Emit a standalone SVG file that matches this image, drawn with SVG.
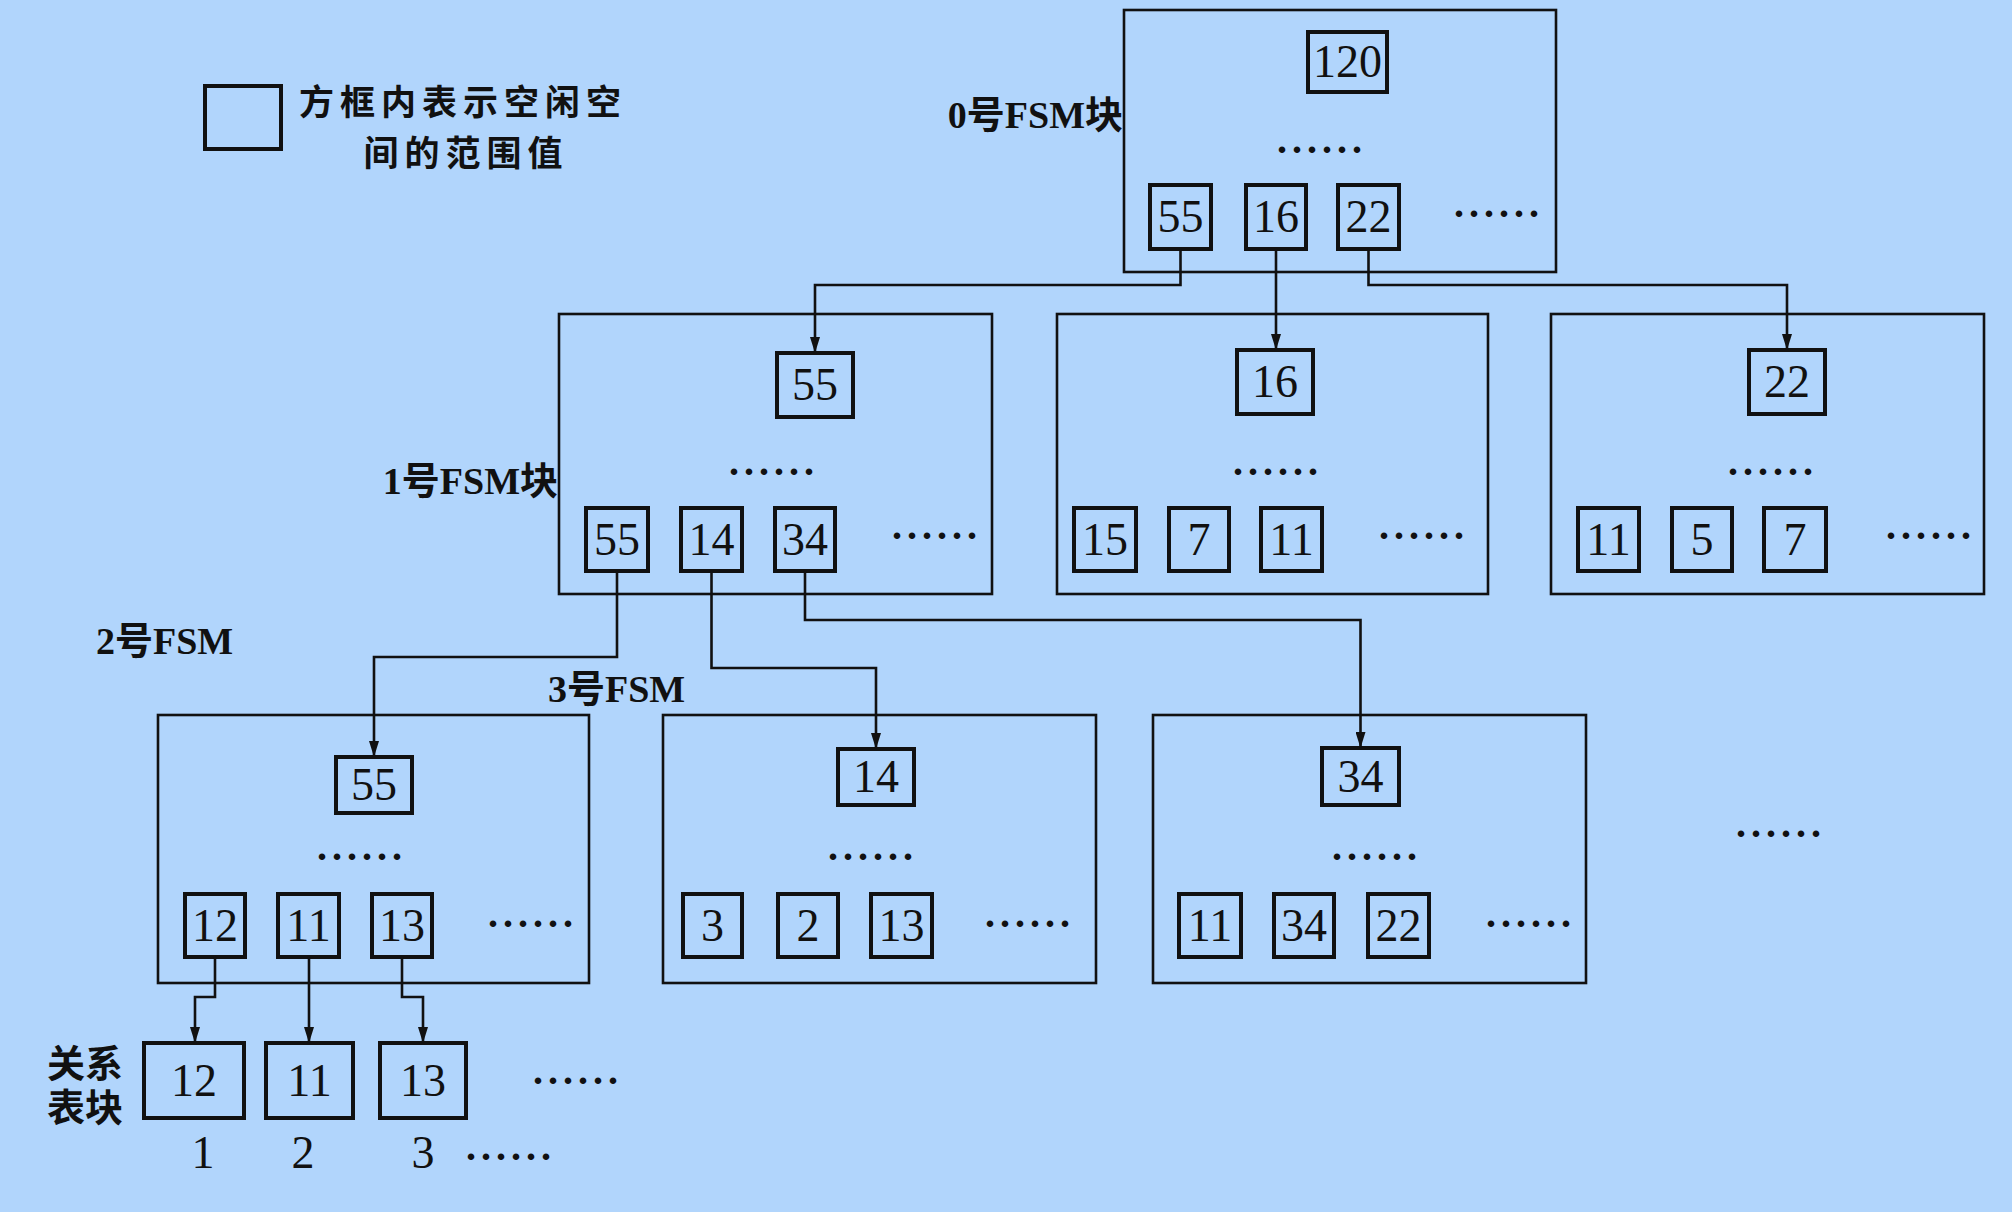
<svg xmlns="http://www.w3.org/2000/svg" width="2012" height="1212" viewBox="0 0 2012 1212">
<defs>
<style>
.blk{fill:none;stroke:#111;stroke-width:2.6}
.box{fill:none;stroke:#111;stroke-width:4}
.num{font-family:"Liberation Serif",serif;font-size:46px;text-anchor:middle;fill:#111}
.dots{font-family:"Liberation Serif",serif;font-size:40px;font-weight:bold;letter-spacing:5px;fill:#111}
.lbl{font-family:"Liberation Serif","Noto Sans CJK SC",sans-serif;font-size:38px;font-weight:bold;fill:#111}
.cjk{font-family:"Noto Sans CJK SC",sans-serif;font-size:35px;font-weight:bold;letter-spacing:6px;fill:#111}
.conn{fill:none;stroke:#111;stroke-width:2.6;marker-end:url(#arr)}
</style>
<marker id="arr" viewBox="0 0 16 10" markerWidth="16" markerHeight="10" refX="16" refY="5" orient="auto" markerUnits="userSpaceOnUse">
<path d="M0,0 L16,5 L0,10 z" fill="#111"/>
</marker>
</defs>
<rect width="2012" height="1212" fill="#b1d5fc"/>

<g id="legend">
<rect class="box" x="205" y="86" width="76" height="63"/>
<text class="cjk" x="299" y="115">方框内表示空闲空</text>
<text class="cjk" x="466" y="166" text-anchor="middle">间的范围值</text>
</g>

<g id="labels">
<text class="lbl" x="1123" y="128" text-anchor="end">0号FSM块</text>
<text class="lbl" x="558" y="494" text-anchor="end">1号FSM块</text>
<text class="lbl" x="96" y="654">2号FSM</text>
<text class="lbl" x="548" y="702">3号FSM</text>
<text class="lbl" x="47" y="1077">关系</text>
<text class="lbl" x="47" y="1121">表块</text>
<text class="dots" x="1736" y="837">......</text>
</g>

<g id="fsm0">
<rect class="blk" x="1124" y="10" width="432" height="262"/>
<rect class="box" x="1308" y="32" width="79" height="60"/><text class="num" x="1347.5" y="77">120</text>
<text class="dots" x="1277" y="153">......</text>
<rect class="box" x="1150" y="185" width="61" height="64"/><text class="num" x="1180.5" y="232">55</text>
<rect class="box" x="1246" y="185" width="60" height="64"/><text class="num" x="1276" y="232">16</text>
<rect class="box" x="1338" y="185" width="61" height="64"/><text class="num" x="1368.5" y="232">22</text>
<text class="dots" x="1454" y="217">......</text>
</g>

<g id="fsm1a">
<rect class="blk" x="559" y="314" width="433" height="280"/>
<rect class="box" x="777" y="353" width="76" height="64"/><text class="num" x="815" y="400">55</text>
<text class="dots" x="729" y="475">......</text>
<rect class="box" x="586" y="508" width="62" height="63"/><text class="num" x="617" y="555">55</text>
<rect class="box" x="681" y="508" width="61" height="63"/><text class="num" x="711.5" y="555">14</text>
<rect class="box" x="775" y="508" width="60" height="63"/><text class="num" x="805" y="555">34</text>
<text class="dots" x="892" y="539">......</text>
</g>

<g id="fsm1b">
<rect class="blk" x="1057" y="314" width="431" height="280"/>
<rect class="box" x="1237" y="350" width="76" height="64"/><text class="num" x="1275" y="397">16</text>
<text class="dots" x="1233" y="475">......</text>
<rect class="box" x="1074" y="508" width="62" height="63"/><text class="num" x="1105" y="555">15</text>
<rect class="box" x="1169" y="508" width="60" height="63"/><text class="num" x="1199" y="555">7</text>
<rect class="box" x="1261" y="508" width="61" height="63"/><text class="num" x="1291.5" y="555">11</text>
<text class="dots" x="1379" y="539">......</text>
</g>

<g id="fsm1c">
<rect class="blk" x="1551" y="314" width="433" height="280"/>
<rect class="box" x="1749" y="350" width="76" height="64"/><text class="num" x="1787" y="397">22</text>
<text class="dots" x="1728" y="475">......</text>
<rect class="box" x="1578" y="508" width="61" height="63"/><text class="num" x="1608.5" y="555">11</text>
<rect class="box" x="1672" y="508" width="60" height="63"/><text class="num" x="1702" y="555">5</text>
<rect class="box" x="1764" y="508" width="62" height="63"/><text class="num" x="1795" y="555">7</text>
<text class="dots" x="1886" y="539">......</text>
</g>

<g id="fsm2">
<rect class="blk" x="158" y="715" width="431" height="268"/>
<rect class="box" x="336" y="757" width="76" height="56"/><text class="num" x="374" y="800">55</text>
<text class="dots" x="317" y="860">......</text>
<rect class="box" x="185" y="894" width="60" height="63"/><text class="num" x="215" y="941">12</text>
<rect class="box" x="278" y="894" width="61" height="63"/><text class="num" x="308.5" y="941">11</text>
<rect class="box" x="372" y="894" width="60" height="63"/><text class="num" x="402" y="941">13</text>
<text class="dots" x="488" y="927">......</text>
</g>

<g id="fsm3">
<rect class="blk" x="663" y="715" width="433" height="268"/>
<rect class="box" x="838" y="749" width="76" height="56"/><text class="num" x="876" y="792">14</text>
<text class="dots" x="828" y="860">......</text>
<rect class="box" x="683" y="894" width="59" height="63"/><text class="num" x="712.5" y="941">3</text>
<rect class="box" x="778" y="894" width="60" height="63"/><text class="num" x="808" y="941">2</text>
<rect class="box" x="871" y="894" width="61" height="63"/><text class="num" x="901.5" y="941">13</text>
<text class="dots" x="985" y="927">......</text>
</g>

<g id="fsm4">
<rect class="blk" x="1153" y="715" width="433" height="268"/>
<rect class="box" x="1322" y="748" width="77" height="57"/><text class="num" x="1360.5" y="792">34</text>
<text class="dots" x="1332" y="860">......</text>
<rect class="box" x="1179" y="894" width="62" height="63"/><text class="num" x="1210" y="941">11</text>
<rect class="box" x="1274" y="894" width="60" height="63"/><text class="num" x="1304" y="941">34</text>
<rect class="box" x="1368" y="894" width="61" height="63"/><text class="num" x="1398.5" y="941">22</text>
<text class="dots" x="1486" y="927">......</text>
</g>

<g id="relblocks">
<rect class="box" x="144" y="1043" width="100" height="75"/><text class="num" x="194" y="1096">12</text>
<rect class="box" x="266" y="1043" width="87" height="75"/><text class="num" x="309.5" y="1096">11</text>
<rect class="box" x="380" y="1043" width="86" height="75"/><text class="num" x="423" y="1096">13</text>
<text class="dots" x="533" y="1084">......</text>
<text class="num" x="203" y="1168">1</text>
<text class="num" x="303" y="1168">2</text>
<text class="num" x="423" y="1168">3</text>
<text class="dots" x="466" y="1160">......</text>
</g>

<g id="connectors">
<path class="conn" d="M1180.5,249 V285 H815 V353"/>
<path class="conn" d="M1276,249 V350"/>
<path class="conn" d="M1368.5,249 V285 H1787 V350"/>
<path class="conn" d="M617,571 V657 H374 V757"/>
<path class="conn" d="M711.5,571 V668 H876 V749"/>
<path class="conn" d="M805,571 V620 H1360.5 V748"/>
<path class="conn" d="M215,957 V997 H195 V1043"/>
<path class="conn" d="M309,957 V1043"/>
<path class="conn" d="M402,957 V997 H423 V1043"/>
</g>
</svg>
